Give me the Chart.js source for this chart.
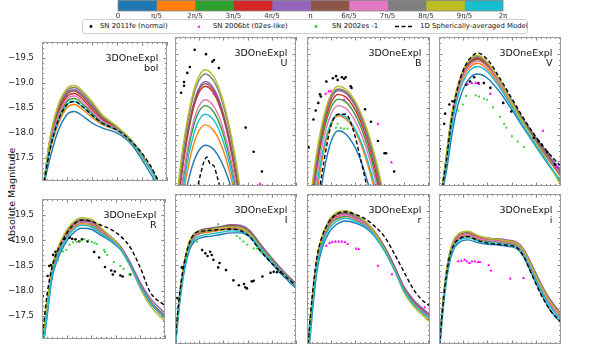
<!DOCTYPE html>
<html>
<head>
<meta charset="utf-8">
<script src="https://cdn.jsdelivr.net/npm/chart.js@4"></script>
<style>
  body { margin: 0; background: #fff; width: 592px; height: 346px; position: relative; overflow: hidden; font-family: "DejaVu Sans", sans-serif; }
  canvas { position: absolute; }
  #legend { position: absolute; left: 82px; top: 19px; width: 444px; height: 13px; border: 1px solid #cfcfcf; border-radius: 3px; background: #fff; }
  #legend .tx { position: absolute; top: 0; line-height: 13px; font-size: 6.9px; color: #111; white-space: nowrap; }
  #legend svg { position: absolute; top: 0; }
  #ylab { position: absolute; left: 11px; top: 195px; transform: translate(-50%, -50%) rotate(-90deg); font-size: 9.5px; color: #111; white-space: nowrap; }
</style>
</head>
<body>
<div id="legend"></div>
<div id="ylab">Absolute Magnitude</div>
<script>
// viewing angle colour bar
const angleLabels = ['0', 'π/5', '2π/5', '3π/5', '4π/5', 'π', '6π/5', '7π/5', '8π/5', '9π/5', '2π'];
const angleBins = [1, 1, 1, 1, 1, 1, 1, 1, 1, 1];
const angleColors = ['#1f77b4', '#ff7f0e', '#2ca02c', '#d62728', '#9467bd', '#8c564b', '#e377c2', '#7f7f7f', '#bcbd22', '#17becf'];

const seriesNames = ['SN 2011fe (normal)', 'SN 2006bt (02es-like)', 'SN 2002es -1', '1D Spherically-averaged Model'];
const bandNames = ['bol', 'U', 'B', 'V', 'R', 'I', 'r', 'i'];
const modelName = '3DOneExpl';
const magTicks = [-19.5, -19.0, -18.5, -18.0, -17.5];

// curves: one row per viewing angle (0 ... 9π/5), days since explosion
const daysBol = [0.5, 3, 6, 10, 13, 16, 20, 24, 30, 36, 43, 47];
const curvesBol = [
  [-16.9, -17.45, -17.98, -18.37, -18.43, -18.35, -18.20, -18.10, -18.00, -17.76, -17.22, -16.90],
  [-16.9, -17.60, -18.11, -18.51, -18.57, -18.48, -18.31, -18.17, -18.05, -17.80, -17.30, -16.98],
  [-16.9, -17.70, -18.23, -18.63, -18.69, -18.59, -18.40, -18.22, -18.07, -17.82, -17.33, -16.96],
  [-16.9, -17.76, -18.33, -18.73, -18.79, -18.69, -18.47, -18.27, -18.09, -17.83, -17.34, -16.95],
  [-16.9, -17.80, -18.41, -18.81, -18.87, -18.77, -18.55, -18.32, -18.11, -17.83, -17.33, -16.93],
  [-16.9, -17.78, -18.38, -18.78, -18.84, -18.74, -18.52, -18.30, -18.10, -17.83, -17.33, -16.95],
  [-16.9, -17.74, -18.28, -18.68, -18.74, -18.64, -18.43, -18.24, -18.08, -17.82, -17.34, -16.96],
  [-16.9, -17.82, -18.45, -18.85, -18.91, -18.81, -18.59, -18.34, -18.12, -17.84, -17.33, -16.92],
  [-16.9, -17.84, -18.49, -18.89, -18.95, -18.85, -18.63, -18.37, -18.13, -17.84, -17.32, -16.90],
  [-16.9, -17.66, -18.17, -18.57, -18.63, -18.53, -18.35, -18.19, -18.06, -17.81, -17.30, -16.98]
];
const modelBol = [-16.9, -17.62, -18.18, -18.57, -18.63, -18.54, -18.36, -18.20, -18.06, -17.82, -17.38, -17.00];

const daysU = [0, 3, 6, 9, 12.5, 16, 19, 22, 25, 28];
const curvesU = [
  [-15.69, -16.58, -17.23, -17.63, -17.80, -17.72, -17.51, -17.18, -16.72, -16.14],
  [-15.71, -16.76, -17.51, -17.99, -18.18, -18.07, -17.82, -17.40, -16.83, -16.11],
  [-15.94, -17.04, -17.84, -18.34, -18.54, -18.42, -18.13, -17.67, -17.04, -16.23],
  [-16.16, -17.32, -18.16, -18.69, -18.90, -18.77, -18.46, -17.95, -17.26, -16.37],
  [-16.23, -17.39, -18.24, -18.77, -18.99, -18.86, -18.54, -18.02, -17.32, -16.42],
  [-16.25, -17.38, -18.22, -18.74, -18.95, -18.82, -18.51, -18.00, -17.31, -16.43],
  [-15.98, -17.11, -17.93, -18.44, -18.65, -18.53, -18.23, -17.76, -17.11, -16.29],
  [-16.43, -17.57, -18.40, -18.92, -19.13, -19.00, -18.68, -18.17, -17.46, -16.57],
  [-16.55, -17.68, -18.49, -19.00, -19.21, -19.08, -18.76, -18.25, -17.55, -16.66],
  [-15.80, -16.89, -17.68, -18.18, -18.38, -18.27, -17.99, -17.54, -16.93, -16.14]
];
const modelDaysU = [9, 10.5, 12, 13.2, 14.5, 16, 17.5, 19];
const modelU = [-16.95, -17.25, -17.50, -17.58, -17.45, -17.42, -17.20, -16.95];

const daysB = [1, 4, 7, 10, 13, 16, 19, 22, 25, 28, 31];
const curvesB = [
  [-15.04, -16.37, -17.31, -17.88, -18.07, -18.01, -17.83, -17.54, -17.12, -16.59, -15.93],
  [-15.74, -16.88, -17.70, -18.19, -18.35, -18.29, -18.13, -17.85, -17.45, -16.95, -16.33],
  [-16.33, -17.35, -18.08, -18.51, -18.66, -18.61, -18.44, -18.17, -17.78, -17.29, -16.68],
  [-16.43, -17.44, -18.17, -18.60, -18.75, -18.70, -18.53, -18.26, -17.88, -17.39, -16.79],
  [-16.50, -17.51, -18.24, -18.67, -18.82, -18.77, -18.60, -18.33, -17.95, -17.47, -16.87],
  [-16.61, -17.59, -18.29, -18.71, -18.85, -18.80, -18.64, -18.38, -18.02, -17.55, -16.98],
  [-16.15, -17.19, -17.94, -18.39, -18.54, -18.49, -18.32, -18.05, -17.67, -17.19, -16.59],
  [-16.62, -17.59, -18.28, -18.70, -18.84, -18.79, -18.63, -18.36, -17.99, -17.52, -16.94],
  [-16.69, -17.66, -18.35, -18.76, -18.90, -18.85, -18.69, -18.43, -18.07, -17.61, -17.04],
  [-16.00, -17.04, -17.78, -18.23, -18.38, -18.33, -18.17, -17.90, -17.52, -17.04, -16.45]
];
const modelB = [-15.5, -16.6, -17.5, -18.18, -18.38, -18.38, -18.10, -17.57, -16.98, -16.4, -15.8];

const daysV = [1, 3, 5, 7, 10, 13, 16, 20, 25, 30, 35, 40, 45, 50.5];
const curvesV = [
  [-16.9, -17.30, -17.90, -18.40, -18.85, -19.07, -19.13, -19.05, -18.80, -18.47, -18.12, -17.78, -17.45, -17.10],
  [-16.9, -17.48, -18.15, -18.63, -19.06, -19.27, -19.33, -19.22, -18.92, -18.56, -18.20, -17.86, -17.54, -17.20],
  [-16.9, -17.55, -18.24, -18.71, -19.13, -19.34, -19.40, -19.28, -18.97, -18.60, -18.24, -17.91, -17.61, -17.30],
  [-16.9, -17.55, -18.25, -18.72, -19.15, -19.36, -19.42, -19.30, -18.98, -18.60, -18.24, -17.90, -17.60, -17.28],
  [-16.9, -17.57, -18.27, -18.75, -19.18, -19.39, -19.45, -19.34, -19.02, -18.64, -18.28, -17.95, -17.64, -17.33],
  [-16.9, -17.58, -18.28, -18.76, -19.18, -19.39, -19.45, -19.33, -19.00, -18.62, -18.25, -17.91, -17.60, -17.26],
  [-16.9, -17.52, -18.20, -18.68, -19.10, -19.31, -19.37, -19.26, -18.95, -18.58, -18.22, -17.88, -17.57, -17.25],
  [-16.9, -17.58, -18.28, -18.76, -19.18, -19.39, -19.45, -19.33, -18.99, -18.61, -18.23, -17.88, -17.56, -17.22],
  [-16.9, -17.60, -18.30, -18.78, -19.21, -19.42, -19.48, -19.35, -19.00, -18.60, -18.20, -17.84, -17.48, -17.04],
  [-16.9, -17.42, -18.07, -18.56, -19.00, -19.21, -19.27, -19.17, -18.88, -18.52, -18.15, -17.80, -17.47, -17.12]
];
const modelV = [-16.9, -17.50, -18.22, -18.73, -19.20, -19.43, -19.52, -19.40, -19.06, -18.68, -18.30, -17.96, -17.67, -17.40];

const daysR = [0, 2, 4, 6, 9, 12, 16, 20, 24, 28, 32, 36, 40, 44, 50];
const curvesR = [
  [-16.7, -17.45, -18.22, -18.58, -18.90, -19.11, -19.24, -19.22, -19.10, -18.98, -18.81, -18.48, -18.09, -17.78, -17.48],
  [-16.8, -17.60, -18.35, -18.68, -19.00, -19.21, -19.33, -19.30, -19.16, -19.02, -18.83, -18.49, -18.10, -17.79, -17.49],
  [-16.8, -17.63, -18.38, -18.71, -19.03, -19.24, -19.36, -19.33, -19.18, -19.03, -18.84, -18.50, -18.10, -17.79, -17.49],
  [-16.8, -17.65, -18.40, -18.73, -19.05, -19.26, -19.38, -19.35, -19.20, -19.05, -18.85, -18.50, -18.10, -17.78, -17.47],
  [-16.85, -17.68, -18.43, -18.76, -19.08, -19.29, -19.40, -19.37, -19.22, -19.07, -18.88, -18.55, -18.16, -17.85, -17.55],
  [-16.85, -17.68, -18.43, -18.76, -19.08, -19.29, -19.41, -19.38, -19.22, -19.06, -18.86, -18.51, -18.11, -17.79, -17.49],
  [-16.8, -17.64, -18.39, -18.72, -19.04, -19.25, -19.37, -19.34, -19.19, -19.04, -18.84, -18.49, -18.09, -17.77, -17.46],
  [-16.85, -17.68, -18.43, -18.77, -19.10, -19.31, -19.42, -19.39, -19.23, -19.06, -18.85, -18.49, -18.08, -17.75, -17.44],
  [-16.85, -17.70, -18.45, -18.79, -19.12, -19.33, -19.45, -19.42, -19.25, -19.07, -18.84, -18.47, -18.04, -17.70, -17.38],
  [-16.7, -17.52, -18.28, -18.63, -18.96, -19.17, -19.30, -19.27, -19.13, -19.00, -18.82, -18.48, -18.08, -17.76, -17.45]
];
const modelR = [-17.0, -17.90, -18.45, -18.75, -19.05, -19.27, -19.40, -19.38, -19.30, -19.22, -19.08, -18.85, -18.45, -17.97, -17.70];

const daysI = [0, 2, 4, 6, 8, 11, 15, 19, 23, 27, 31, 35, 39, 43, 47, 50.5];
const curvesI = [
  [-16.9, -17.82, -18.43, -18.78, -18.94, -19.01, -19.04, -19.07, -19.10, -19.10, -19.02, -18.80, -18.58, -18.38, -18.20, -18.05],
  [-17.0, -17.92, -18.52, -18.86, -19.02, -19.09, -19.12, -19.15, -19.17, -19.16, -19.07, -18.85, -18.64, -18.44, -18.26, -18.11],
  [-17.0, -17.94, -18.54, -18.88, -19.04, -19.11, -19.14, -19.17, -19.19, -19.17, -19.08, -18.86, -18.65, -18.45, -18.27, -18.12],
  [-17.0, -17.95, -18.55, -18.90, -19.05, -19.12, -19.15, -19.18, -19.20, -19.18, -19.08, -18.85, -18.64, -18.44, -18.26, -18.12],
  [-17.0, -17.97, -18.58, -18.93, -19.09, -19.16, -19.19, -19.22, -19.25, -19.24, -19.14, -18.91, -18.69, -18.48, -18.29, -18.14],
  [-17.0, -17.97, -18.58, -18.93, -19.08, -19.15, -19.18, -19.21, -19.24, -19.22, -19.12, -18.89, -18.67, -18.46, -18.28, -18.13],
  [-17.0, -17.95, -18.55, -18.90, -19.05, -19.12, -19.15, -19.18, -19.20, -19.18, -19.08, -18.86, -18.65, -18.45, -18.27, -18.12],
  [-17.0, -17.97, -18.58, -18.92, -19.07, -19.14, -19.17, -19.20, -19.22, -19.20, -19.10, -18.87, -18.66, -18.45, -18.27, -18.13],
  [-17.0, -17.98, -18.60, -18.95, -19.08, -19.14, -19.16, -19.19, -19.21, -19.19, -19.08, -18.84, -18.62, -18.42, -18.24, -18.10],
  [-16.95, -17.88, -18.48, -18.82, -18.98, -19.05, -19.08, -19.11, -19.14, -19.13, -19.04, -18.82, -18.61, -18.41, -18.23, -18.08]
];
const modelI = [-17.1, -18.00, -18.58, -18.92, -19.08, -19.13, -19.15, -19.16, -19.17, -19.14, -19.02, -18.78, -18.58, -18.40, -18.24, -18.10];

const daysSr = [0, 2, 4, 6, 9, 12, 16, 20, 24, 28, 32, 36, 40, 44, 47, 50.5];
const curvesSr = [
  [-16.5, -17.52, -18.36, -18.78, -19.10, -19.25, -19.32, -19.28, -19.20, -19.03, -18.77, -18.43, -18.04, -17.79, -17.66, -17.53],
  [-16.7, -17.70, -18.50, -18.90, -19.22, -19.35, -19.40, -19.34, -19.24, -19.06, -18.79, -18.44, -18.05, -17.80, -17.67, -17.54],
  [-16.7, -17.72, -18.52, -18.92, -19.24, -19.36, -19.41, -19.35, -19.25, -19.06, -18.79, -18.44, -18.05, -17.80, -17.67, -17.54],
  [-16.7, -17.75, -18.55, -18.95, -19.27, -19.39, -19.44, -19.37, -19.27, -19.08, -18.80, -18.45, -18.05, -17.80, -17.67, -17.54],
  [-16.75, -17.78, -18.58, -18.98, -19.30, -19.43, -19.46, -19.40, -19.31, -19.12, -18.85, -18.50, -18.11, -17.86, -17.73, -17.60],
  [-16.75, -17.78, -18.58, -18.98, -19.30, -19.43, -19.47, -19.41, -19.31, -19.11, -18.83, -18.48, -18.08, -17.83, -17.70, -17.57],
  [-16.7, -17.74, -18.54, -18.94, -19.26, -19.38, -19.43, -19.36, -19.26, -19.07, -18.80, -18.45, -18.05, -17.80, -17.67, -17.54],
  [-16.75, -17.78, -18.58, -18.98, -19.31, -19.45, -19.48, -19.41, -19.30, -19.09, -18.80, -18.44, -18.03, -17.77, -17.64, -17.51],
  [-16.75, -17.80, -18.60, -19.00, -19.33, -19.47, -19.51, -19.44, -19.32, -19.10, -18.80, -18.42, -18.00, -17.74, -17.60, -17.46],
  [-16.6, -17.62, -18.44, -18.85, -19.17, -19.31, -19.37, -19.31, -19.22, -19.04, -18.77, -18.42, -18.03, -17.78, -17.65, -17.52]
];
const modelSr = [-16.8, -17.85, -18.62, -19.00, -19.30, -19.44, -19.49, -19.44, -19.36, -19.22, -19.03, -18.72, -18.38, -18.05, -17.88, -17.75];

const daysSi = [0, 2, 4, 6, 8, 12, 16, 20, 24, 28, 32, 35, 38, 42, 46, 50.5];
const curvesSi = [
  [-16.8, -17.82, -18.47, -18.79, -18.91, -18.97, -18.92, -18.89, -18.88, -18.85, -18.81, -18.65, -18.37, -17.99, -17.67, -17.42],
  [-16.9, -17.91, -18.56, -18.86, -18.98, -19.04, -18.98, -18.94, -18.93, -18.90, -18.86, -18.72, -18.46, -18.09, -17.78, -17.52],
  [-16.9, -17.93, -18.58, -18.88, -19.00, -19.06, -18.99, -18.95, -18.94, -18.91, -18.87, -18.73, -18.47, -18.10, -17.79, -17.54],
  [-16.9, -17.95, -18.60, -18.90, -19.02, -19.08, -19.01, -18.97, -18.96, -18.93, -18.89, -18.74, -18.47, -18.09, -17.77, -17.53],
  [-16.9, -17.97, -18.63, -18.94, -19.06, -19.11, -19.04, -19.00, -18.99, -18.97, -18.93, -18.80, -18.54, -18.17, -17.86, -17.60],
  [-16.9, -17.97, -18.63, -18.94, -19.06, -19.11, -19.04, -19.00, -18.98, -18.96, -18.92, -18.78, -18.52, -18.15, -17.84, -17.58],
  [-16.9, -17.94, -18.59, -18.89, -19.01, -19.07, -19.00, -18.96, -18.95, -18.92, -18.88, -18.73, -18.47, -18.09, -17.78, -17.53],
  [-16.9, -17.98, -18.64, -18.95, -19.07, -19.12, -19.05, -19.00, -18.98, -18.95, -18.91, -18.77, -18.51, -18.14, -17.83, -17.57],
  [-16.9, -17.98, -18.65, -18.96, -19.08, -19.13, -19.05, -19.00, -18.98, -18.95, -18.91, -18.77, -18.50, -18.13, -17.82, -17.56],
  [-16.85, -17.87, -18.52, -18.83, -18.95, -19.01, -18.95, -18.92, -18.91, -18.88, -18.84, -18.69, -18.42, -18.04, -17.73, -17.48]
];
const modelSi = [-16.9, -17.93, -18.58, -18.87, -18.98, -19.03, -18.96, -18.91, -18.89, -18.87, -18.83, -18.66, -18.36, -17.97, -17.66, -17.45];

// observed supernovae, [day, magnitude]
const feU = [[2.53, -18.78], [3.73, -18.91], [3.73, -18.98], [5.07, -19.15], [6.13, -19.26], [8.13, -19.58], [12.8, -19.50], [15.47, -19.36], [16.13, -19.39], [18.13, -19.24], [29.2, -18.13], [32.5, -17.68], [35.9, -17.31]];
const btU = [[16.1, -18.76], [35.1, -17.08]];

const feB = [[0.67, -17.76], [2.67, -18.28], [3.6, -18.45], [4.67, -18.59], [5.33, -18.75], [5.73, -18.71], [8, -18.99], [10.67, -19.05], [12, -19.09], [12.67, -19.02], [14.4, -19.07], [15.33, -19.04], [16, -19.07], [18, -18.90], [18.4, -18.87], [24, -18.47], [26.4, -18.24], [29.3, -17.88], [32, -17.65], [32.67, -17.65], [36, -17.31]];
const btB = [[7.73, -18.76], [8.93, -18.80], [9.73, -18.81], [15.33, -18.65], [29.3, -18.20], [34.9, -17.48]];
const esB = [[8.27, -18.01], [12, -18.13], [12.67, -18.20], [14, -18.12], [15.3, -18.11], [16.67, -18.11], [26.67, -17.26]];

const feV = [[0.27, -17.73], [2.13, -18.20], [2.53, -18.39], [4.27, -18.56], [5.6, -18.62], [11.2, -18.93], [12.8, -18.99], [14.53, -19.07], [16.27, -18.96], [18.53, -18.96], [21.2, -18.87], [26.53, -18.59], [29.87, -18.43], [39.2, -17.94], [41.2, -17.87], [42.5, -17.81], [44.8, -17.67], [47.87, -17.44]];
const btV = [[11.87, -18.94], [13.6, -18.96], [15.2, -18.96], [16.53, -18.94], [21.2, -18.76], [42.93, -18.07], [48.53, -17.39]];
const esV = [[7.87, -18.45], [9.87, -18.56], [11.2, -18.72], [15.2, -18.73], [16.53, -18.71], [18.53, -18.67], [19.87, -18.65], [22.27, -18.51], [25.2, -18.33], [26.93, -18.20], [27.87, -18.13], [30.13, -17.97], [32.53, -17.87], [35.2, -17.77]];

const feR = [[0.27, -17.89], [2.27, -18.29], [2.93, -18.49], [3.6, -18.51], [4.53, -18.71], [5.47, -18.77], [9.2, -19.03], [11.2, -19.05], [12.27, -19.03], [13.6, -19.02], [15.2, -18.98], [16.27, -19.02], [18.53, -18.98], [21.2, -18.77], [23.2, -18.66], [25.6, -18.47], [28.13, -18.40], [28.8, -18.32], [29.6, -18.38], [31.87, -18.30], [32.8, -18.28], [35.87, -18.32]];
const esR = [[6.53, -18.61], [8.53, -18.78], [9.87, -18.81], [11.2, -18.91], [12.53, -18.96], [14.13, -18.97], [15.47, -18.98], [17.2, -19.02], [18.93, -19.00], [20.27, -18.97], [21.33, -18.95], [22.27, -18.93], [25.2, -18.81], [25.6, -18.77], [26.53, -18.71], [29.2, -18.57], [31.87, -18.49], [33.2, -18.43], [35.47, -18.32]];

const feI = [[0.8, -17.89], [2.8, -18.46], [11.2, -18.78], [12.53, -18.72], [13.47, -18.67], [14.53, -18.75], [15.2, -18.69], [15.87, -18.60], [17.87, -18.46], [18.4, -18.54], [21.07, -18.41], [24.13, -18.22], [26.4, -18.13], [28.53, -18.15], [29.07, -18.09], [29.73, -18.07], [31.73, -18.20], [32.53, -18.21], [36.13, -18.29], [39.47, -18.36], [40.8, -18.38], [42.13, -18.37], [43.73, -18.37]];
const esI = [[9.07, -18.94], [17.87, -19.26], [25.47, -19.04], [26.8, -19.00], [28.27, -18.94], [29.87, -18.88], [32.53, -18.81], [33.87, -18.81], [35.73, -18.73], [39.2, -18.66]];

const btSr = [[8, -18.86], [9.33, -18.91], [10.4, -18.93], [11.73, -18.94], [13.07, -18.94], [14.4, -18.94], [15.73, -18.93], [16.8, -18.89], [20.27, -18.81], [21.33, -18.80], [29.33, -18.49], [35.07, -18.33], [48.67, -17.72]];
const btSi = [[7.87, -18.57], [9.2, -18.58], [10.53, -18.60], [11.47, -18.57], [12.53, -18.54], [13.6, -18.57], [14.8, -18.57], [16.13, -18.56], [16.93, -18.56], [20.53, -18.50], [21.47, -18.40], [29.47, -18.25], [34.93, -18.26]];

Chart.defaults.font.family = '"DejaVu Sans", sans-serif';

const obsStyle = {
  fe: { color: '#000000', shape: 'circle', r: 1.3 },
  bt: { color: '#ff00ff', shape: 'triangle', r: 1.8 },
  es: { color: '#3fd23f', shape: 'rect', r: 1.4 }
};

const panels = [
  { band: 0, days: daysBol, curves: curvesBol, modelDays: daysBol, model: modelBol, obs: [] },
  { band: 1, days: daysU, curves: curvesU, modelDays: modelDaysU, model: modelU, obs: [['bt', btU], ['fe', feU]] },
  { band: 2, days: daysB, curves: curvesB, modelDays: daysB, model: modelB, obs: [['es', esB], ['bt', btB], ['fe', feB]] },
  { band: 3, days: daysV, curves: curvesV, modelDays: daysV, model: modelV, obs: [['es', esV], ['bt', btV], ['fe', feV]] },
  { band: 4, days: daysR, curves: curvesR, modelDays: daysR, model: modelR, obs: [['es', esR], ['fe', feR]] },
  { band: 5, days: daysI, curves: curvesI, modelDays: daysI, model: modelI, obs: [['es', esI], ['fe', feI]] },
  { band: 6, days: daysSr, curves: curvesSr, modelDays: daysSr, model: modelSr, obs: [['bt', btSr]] },
  { band: 7, days: daysSi, curves: curvesSi, modelDays: daysSi, model: modelSi, obs: [['bt', btSi]] }
];

// page layout of the plot areas
const colLeft = [42, 173, 305, 437];
const colWidth = [125, 125, 127, 126];
const rowTop = [37, 194];
const rowHeight = [149, 150];

function makeCanvas(left, top, w, h) {
  const c = document.createElement('canvas');
  c.width = w; c.height = h;
  c.style.left = left + 'px'; c.style.top = top + 'px';
  c.style.width = w + 'px'; c.style.height = h + 'px';
  document.body.appendChild(c);
  return c;
}

// inward ticks on all four sides, frame and the panel label
const panelFrame = {
  id: 'panelFrame',
  afterDraw(chart, args, opts) {
    const { ctx, chartArea: a, scales: { x, y } } = chart;
    ctx.save();
    ctx.strokeStyle = '#666';
    ctx.lineWidth = 0.8;
    ctx.beginPath();
    for (let d = 0; d <= x.max; d += 2) {
      const px = Math.round(x.getPixelForValue(d)) + 0.5;
      const len = d % 10 === 0 ? 3.5 : 2;
      ctx.moveTo(px, a.top); ctx.lineTo(px, a.top + len);
      ctx.moveTo(px, a.bottom); ctx.lineTo(px, a.bottom - len);
    }
    for (let t = -198; t <= -171; t++) {
      const py = Math.round(y.getPixelForValue(t / 10)) + 0.5;
      const len = t % 5 === 0 ? 3.5 : 2;
      ctx.moveTo(a.left, py); ctx.lineTo(a.left + len, py);
      ctx.moveTo(a.right, py); ctx.lineTo(a.right - len, py);
    }
    ctx.stroke();
    ctx.strokeStyle = '#9c9c9c';
    ctx.lineWidth = 1;
    ctx.strokeRect(Math.round(a.left) + 0.5, Math.round(a.top) + 0.5, Math.round(a.width) - 1, Math.round(a.height) - 1);
    ctx.fillStyle = '#111';
    ctx.font = '9.5px "DejaVu Sans"';
    ctx.textAlign = 'right';
    ctx.fillText(modelName, a.right - 8.5, a.top + 18.5);
    ctx.fillText(opts.band, a.right - 8.5, a.top + 29);
    ctx.restore();
  }
};

panels.forEach((p, n) => {
  const col = n % 4, row = Math.floor(n / 4);
  const isLeft = col === 0;
  const L = colLeft[col], W = colWidth[col], T = rowTop[row], H = rowHeight[row];
  const padL = isLeft ? L : 2;
  const canvas = makeCanvas(L - padL, T - 8, W + padL + 2, H + 16);

  const datasets = p.curves.map((mags, k) => ({
    data: p.days.map((d, i) => ({ x: d, y: mags[i] })),
    borderColor: angleColors[k],
    borderWidth: 1.4,
    pointRadius: 0,
    cubicInterpolationMode: 'monotone',
    order: 12 - k
  }));
  datasets.push({
    data: p.modelDays.map((d, i) => ({ x: d, y: p.model[i] })),
    borderColor: '#000',
    borderDash: [4, 2.5],
    borderWidth: 1.4,
    pointRadius: 0,
    cubicInterpolationMode: 'monotone',
    order: 2
  });
  p.obs.forEach(([kind, pts]) => {
    const s = obsStyle[kind];
    datasets.push({
      data: pts.map(([d, m]) => ({ x: d, y: m })),
      showLine: false,
      pointStyle: s.shape,
      pointRadius: s.r,
      pointBorderWidth: 0,
      pointBackgroundColor: s.color,
      order: 1
    });
  });

  const yScale = {
    type: 'linear', min: -19.82, max: -17.04, reverse: true,
    display: isLeft,
    grid: { display: false, drawTicks: false },
    border: { display: false }
  };
  if (isLeft) {
    yScale.afterFit = s => { s.width = L; };
    yScale.afterBuildTicks = s => { s.ticks = magTicks.map(v => ({ value: v })); };
    yScale.ticks = { callback: v => '\u2212' + Math.abs(v).toFixed(1), font: { size: 8.5 }, color: '#222', padding: 8 };
  }

  new Chart(canvas, {
    type: 'line',
    data: { datasets },
    options: {
      responsive: false,
      animation: false,
      events: [],
      layout: { padding: { left: isLeft ? 0 : 2, right: 2, top: 8, bottom: 8 } },
      plugins: { legend: { display: false }, tooltip: { enabled: false }, panelFrame: { band: bandNames[p.band] } },
      scales: {
        x: { type: 'linear', min: 0, max: W / 2.5, display: false },
        y: yScale
      }
    },
    plugins: [panelFrame]
  });
});

// colour bar of viewing angles
const cbarFrame = {
  id: 'cbarFrame',
  afterDraw(chart) {
    const { ctx, chartArea: a } = chart;
    ctx.save();
    ctx.strokeStyle = '#888';
    ctx.lineWidth = 0.8;
    ctx.strokeRect(a.left, a.top + 0.4, a.width, a.height - 0.4);
    ctx.restore();
  }
};
new Chart(makeCanvas(108, 0, 405, 21), {
  type: 'bar',
  data: {
    labels: [''],
    datasets: angleBins.map((v, k) => ({ data: [v], backgroundColor: angleColors[k], borderWidth: 0, barPercentage: 1, categoryPercentage: 1 }))
  },
  options: {
    indexAxis: 'y', responsive: false, animation: false, events: [],
    layout: { padding: { left: 10, right: 10, top: 0, bottom: 0 } },
    plugins: { legend: { display: false }, tooltip: { enabled: false } },
    scales: {
      x: {
        stacked: true, min: 0, max: 10,
        afterFit: s => { s.height = 10; },
        afterBuildTicks: s => { s.ticks = angleLabels.map((_, i) => ({ value: i })); },
        ticks: { callback: v => angleLabels[v], font: { size: 7 }, color: '#333', padding: 1, maxRotation: 0, autoSkip: false },
        grid: { display: false, drawTicks: false },
        border: { display: false }
      },
      y: { stacked: true, display: false }
    }
  },
  plugins: [cbarFrame]
});

// legend
const legend = document.getElementById('legend');
const legendMarkers = [
  '<circle cx="4" cy="6.5" r="1.4" fill="#000"/>',
  '<path d="M4 5 L5.5 7.8 L2.5 7.8 Z" fill="#ff00ff"/>',
  '<rect x="2.6" y="5.1" width="2.8" height="2.8" fill="#3fd23f"/>',
  '<line x1="0" y1="6.5" x2="18" y2="6.5" stroke="#000" stroke-width="1.4" stroke-dasharray="4,2.5"/>'
];
const legendMarkX = [4, 112, 229, 312];
const legendTextX = [17, 130, 249, 337];
seriesNames.forEach((name, i) => {
  const svg = document.createElementNS('http://www.w3.org/2000/svg', 'svg');
  svg.setAttribute('width', i === 3 ? 18 : 8);
  svg.setAttribute('height', 13);
  svg.style.left = legendMarkX[i] + 'px';
  svg.innerHTML = legendMarkers[i];
  legend.appendChild(svg);
  const t = document.createElement('span');
  t.className = 'tx';
  t.style.left = legendTextX[i] + 'px';
  t.textContent = name;
  legend.appendChild(t);
});
</script>
</body>
</html>
